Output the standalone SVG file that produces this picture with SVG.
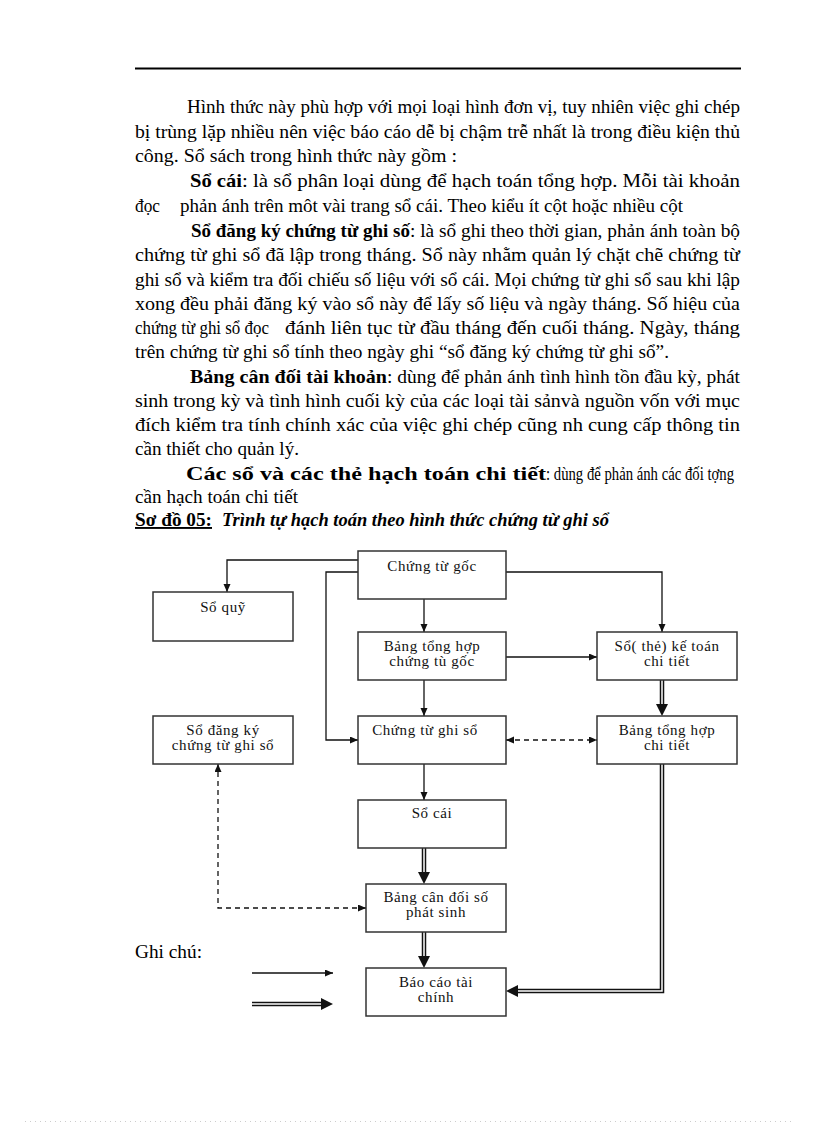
<svg xmlns="http://www.w3.org/2000/svg" width="816" height="1123" viewBox="0 0 816 1123">
<style>
.p{font-family:"Liberation Serif","Times New Roman",serif;font-size:19px;fill:#000}
.b{font-weight:bold}
.bi{font-weight:bold;font-style:italic}
.box rect{fill:#fff;stroke:#333;stroke-width:1.5}
.box text{font-family:"Liberation Serif","Times New Roman",serif;font-size:15px;letter-spacing:0.6px;fill:#111;text-anchor:middle}
.ln{fill:none;stroke:#111;stroke-width:1.3}
.dash{fill:none;stroke:#111;stroke-width:1.3;stroke-dasharray:5 4}
.dbl{fill:none;stroke:#111;stroke-width:4.5}
.dblw{fill:none;stroke:#fff;stroke-width:1.5}
</style>
<defs>
<marker id="ah" markerUnits="userSpaceOnUse" markerWidth="9" markerHeight="8" refX="8" refY="3.5" orient="auto-start-reverse"><path d="M0,0 L8,3.5 L0,7 z" fill="#111"/></marker>
<marker id="big" markerUnits="userSpaceOnUse" markerWidth="13" markerHeight="13" refX="1" refY="6" orient="auto"><path d="M0,0 L12,6 L0,12 z" fill="#111"/></marker>
</defs>
<rect width="816" height="1123" fill="#fff"/>
<line x1="135" y1="68.5" x2="741" y2="68.5" stroke="#000" stroke-width="2"/>
<line x1="25" y1="1121.5" x2="795" y2="1121.5" stroke="#ccc" stroke-width="1" stroke-dasharray="1 4"/>

<g id="text">
<text class="p" x="187" y="113" textLength="553" lengthAdjust="spacingAndGlyphs">Hình thức này phù hợp với mọi loại hình đơn vị, tuy nhiên việc ghi chép</text>
<text class="p" x="135" y="138" textLength="605" lengthAdjust="spacingAndGlyphs">bị trùng lặp nhiều nên việc báo cáo dễ bị chậm trễ nhất là trong điều kiện thủ</text>
<text class="p" x="135" y="162" textLength="322" lengthAdjust="spacingAndGlyphs">công. Sổ sách trong hình thức này gồm :</text>
<text class="p b" x="190" y="187" textLength="52" lengthAdjust="spacingAndGlyphs">Sổ cái</text>
<text class="p" x="242" y="187" textLength="498" lengthAdjust="spacingAndGlyphs">:  là sổ phân loại dùng để hạch toán tổng hợp. Mỗi tài khoản</text>
<text class="p" x="135" y="212" textLength="25" lengthAdjust="spacingAndGlyphs">đọc</text>
<text class="p" x="180" y="212" textLength="503" lengthAdjust="spacingAndGlyphs">phản ánh trên môt vài trang sổ cái. Theo kiểu ít cột hoặc nhiều cột</text>
<text class="p b" x="191" y="237" textLength="219" lengthAdjust="spacingAndGlyphs">Sổ đăng ký chứng từ ghi số</text>
<text class="p" x="410" y="237" textLength="330" lengthAdjust="spacingAndGlyphs">: là sổ ghi theo thời gian, phản ánh toàn bộ</text>
<text class="p" x="135" y="261" textLength="605" lengthAdjust="spacingAndGlyphs">chứng từ ghi sổ đã lập trong tháng. Sổ này nhằm  quản lý chặt chẽ chứng từ</text>
<text class="p" x="135" y="286" textLength="605" lengthAdjust="spacingAndGlyphs">ghi sổ và kiểm tra đối chiếu số liệu với sổ cái. Mọi chứng từ ghi sổ sau khi lập</text>
<text class="p" x="135" y="310" textLength="605" lengthAdjust="spacingAndGlyphs">xong đều phải đăng ký vào sổ này để lấy số liệu và ngày tháng. Số hiệu của</text>
<text class="p" x="135" y="334" textLength="134" lengthAdjust="spacingAndGlyphs">chứng từ ghi sổ đọc</text>
<text class="p" x="285" y="334" textLength="455" lengthAdjust="spacingAndGlyphs">đánh liên tục từ đầu tháng đến cuối tháng. Ngày, tháng</text>
<text class="p" x="135" y="358" textLength="534" lengthAdjust="spacingAndGlyphs">trên chứng từ ghi sổ tính theo ngày ghi “sổ đăng ký chứng từ ghi sổ”.</text>
<text class="p b" x="190" y="383" textLength="197" lengthAdjust="spacingAndGlyphs">Bảng cân đối tài khoản</text>
<text class="p" x="387" y="383" textLength="353" lengthAdjust="spacingAndGlyphs">:  dùng để phản ánh tình hình tồn đầu kỳ, phát</text>
<text class="p" x="135" y="407" textLength="605" lengthAdjust="spacingAndGlyphs">sinh trong kỳ và tình hình cuối kỳ của các loại tài sảnvà nguồn vốn với mục</text>
<text class="p" x="135" y="431" textLength="605" lengthAdjust="spacingAndGlyphs">đích kiểm tra tính chính xác của việc ghi chép cũng nh  cung cấp thông tin</text>
<text class="p" x="135" y="455" textLength="164" lengthAdjust="spacingAndGlyphs">cần thiết cho quản lý.</text>
<text class="p b" x="186" y="480" textLength="360" lengthAdjust="spacingAndGlyphs">Các sổ và các thẻ hạch toán chi tiết</text>
<text class="p" x="546" y="480" textLength="188" lengthAdjust="spacingAndGlyphs">: dùng để phản ánh các đối tợng</text>
<text class="p" x="135" y="503" textLength="163" lengthAdjust="spacingAndGlyphs">cần hạch toán chi tiết</text>
<text class="p b" x="135" y="526" textLength="77" lengthAdjust="spacingAndGlyphs" text-decoration="underline">Sơ đồ 05:</text>
<text class="p bi" x="222" y="526" textLength="387" lengthAdjust="spacingAndGlyphs">Trình tự hạch toán theo hình thức chứng từ ghi sổ</text>
<text class="p" x="135" y="958" textLength="67" lengthAdjust="spacingAndGlyphs">Ghi chú:</text>
</g>

<g id="connectors">
<path class="ln" d="M358,560 H227 V592" marker-end="url(#ah)"/>
<path class="ln" d="M358,572 H326 V740 H358" marker-end="url(#ah)"/>
<path class="ln" d="M424,599 V632" marker-end="url(#ah)"/>
<path class="ln" d="M424,680 V716" marker-end="url(#ah)"/>
<path class="ln" d="M506,572 H662 V632" marker-end="url(#ah)"/>
<path class="ln" d="M506,657 H597" marker-end="url(#ah)"/>
<path class="dash" d="M506,740 H597" marker-start="url(#ah)" marker-end="url(#ah)"/>
<path class="ln" d="M424,764 V800" marker-end="url(#ah)"/>
<path class="dash" d="M366,908 H218 V764" marker-start="url(#ah)" marker-end="url(#ah)"/>
<path class="dbl" d="M662,680 V705" marker-end="url(#big)"/>
<path class="dblw" d="M662,680 V704"/>
<path class="dbl" d="M424,848 V873" marker-end="url(#big)"/>
<path class="dblw" d="M424,848 V872"/>
<path class="dbl" d="M424,932 V957" marker-end="url(#big)"/>
<path class="dblw" d="M424,932 V956"/>
<path class="dbl" d="M662,764 V991 H517" marker-end="url(#big)"/>
<path class="dblw" d="M662,764 V991 H518"/>
<path class="ln" d="M252,973 H333" marker-end="url(#ah)"/>
<path class="dbl" d="M252,1004 H322" marker-end="url(#big)"/>
<path class="dblw" d="M252,1004 H321"/>
</g>

<g id="chung-tu-goc" class="box"><rect x="358" y="551" width="148" height="48"/><text x="432" y="571">Chứng từ gốc</text></g>
<g id="so-quy" class="box"><rect x="153" y="592" width="140" height="49"/><text x="223" y="612">Sổ quỹ</text></g>
<g id="bang-tong-hop-ctg" class="box"><rect x="358" y="632" width="148" height="48"/><text x="432" y="651">Bảng tổng hợp</text><text x="432" y="666">chứng tù gốc</text></g>
<g id="so-the-ke-toan" class="box"><rect x="597" y="632" width="140" height="48"/><text x="667" y="651">Sổ( thẻ) kế toán</text><text x="667" y="666">chi tiết</text></g>
<g id="so-dang-ky" class="box"><rect x="153" y="716" width="140" height="48"/><text x="223" y="735">Sổ đăng ký</text><text x="223" y="750">chứng từ ghi sổ</text></g>
<g id="chung-tu-ghi-so" class="box"><rect x="358" y="716" width="148" height="48"/><text x="425" y="735">Chứng từ ghi sổ</text></g>
<g id="bang-tong-hop-ct" class="box"><rect x="597" y="716" width="140" height="48"/><text x="667" y="735">Bảng tổng hợp</text><text x="667" y="750">chi tiết</text></g>
<g id="so-cai" class="box"><rect x="358" y="800" width="148" height="48"/><text x="432" y="818">Sổ cái</text></g>
<g id="bang-can-doi" class="box"><rect x="366" y="884" width="140" height="48"/><text x="436" y="902">Bảng cân đối số</text><text x="436" y="917">phát sinh</text></g>
<g id="bao-cao" class="box"><rect x="366" y="968" width="140" height="48"/><text x="436" y="987">Báo cáo tài</text><text x="436" y="1002">chính</text></g>
</svg>
